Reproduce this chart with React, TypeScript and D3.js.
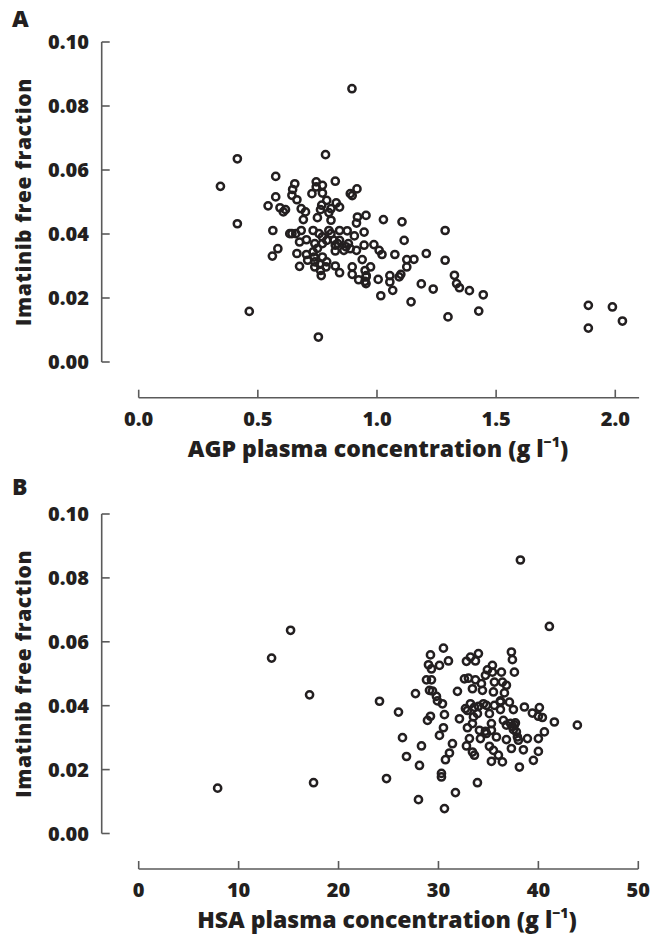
import React from "react";
import * as d3 from "d3";

// Panel A: AGP (g/l) vs imatinib free fraction
const agpX = [0.895,0.784,0.414,0.343,0.575,0.414,0.464,0.754,1.887,1.887,1.988,2.03,1.286,1.286,1.298,1.427,1.446,1.388,1.346,1.334,1.325,1.236,1.186,1.143,1.207,1.155,1.125,1.125,1.114,1.105,1.027,1.075,1.1,1.093,1.054,1.054,1.066,1.016,1.005,1.021,1.009,0.987,0.954,0.918,0.914,0.916,0.888,0.896,0.825,0.946,0.905,0.946,0.914,0.938,0.973,0.95,0.954,0.954,0.923,0.896,0.896,0.875,0.87,0.861,0.843,0.825,0.825,0.807,0.807,0.798,0.807,0.843,0.829,0.789,0.771,0.771,0.745,0.745,0.727,0.768,0.763,0.75,0.732,0.757,0.771,0.771,0.739,0.732,0.736,0.739,0.739,0.763,0.766,0.786,0.789,0.825,0.843,0.709,0.704,0.704,0.7,0.682,0.691,0.664,0.643,0.646,0.655,0.643,0.634,0.659,0.675,0.664,0.675,0.616,0.593,0.543,0.575,0.563,0.584,0.561,0.607,0.682,0.843,0.798,0.88,0.888,0.789,0.771,0.95,0.955,0.76,0.75,0.82,0.835];
const agpY = [0.0854,0.0648,0.0635,0.0549,0.058,0.0432,0.0158,0.0078,0.0177,0.0106,0.0172,0.0128,0.0411,0.0318,0.0141,0.0159,0.021,0.0223,0.0232,0.0245,0.0271,0.0228,0.0244,0.0188,0.0339,0.0321,0.032,0.0297,0.038,0.0438,0.0445,0.0336,0.0274,0.0266,0.027,0.025,0.0224,0.0207,0.0258,0.0336,0.0349,0.0367,0.0458,0.0453,0.0434,0.0541,0.0526,0.052,0.0565,0.0406,0.0394,0.0365,0.0349,0.032,0.0297,0.0286,0.0266,0.0245,0.0257,0.0297,0.0274,0.041,0.036,0.0349,0.038,0.0365,0.0347,0.0401,0.0443,0.0467,0.0479,0.0484,0.0497,0.0505,0.0528,0.0552,0.0563,0.0547,0.0526,0.049,0.0476,0.0451,0.0411,0.0401,0.0391,0.037,0.037,0.0344,0.0328,0.0313,0.0297,0.0286,0.027,0.0297,0.0313,0.03,0.0279,0.0318,0.0336,0.0382,0.0469,0.0479,0.0445,0.0507,0.0521,0.0539,0.0557,0.0401,0.0401,0.0401,0.0375,0.0339,0.0299,0.0476,0.0482,0.0488,0.0516,0.0411,0.0354,0.0331,0.0469,0.0411,0.0411,0.0411,0.037,0.0354,0.038,0.0328,0.0252,0.027,0.0305,0.0355,0.038,0.037];

// Panel B: HSA (g/l) vs imatinib free fraction
const hsaX = [38.2,41.1,15.2,13.3,17.1,17.5,7.9,24.1,26.0,26.4,26.8,28.3,28.1,24.8,28.0,30.6,30.3,30.3,31.7,33.9,27.7,29.2,30.5,31.0,30.1,29.0,29.3,28.8,29.3,29.1,29.4,29.8,29.9,30.4,29.2,28.9,30.6,30.5,30.1,30.7,31.1,31.4,31.9,32.1,32.8,33.2,34.0,33.7,32.6,33.0,33.7,33.4,34.3,34.4,34.7,34.9,35.4,35.6,35.5,36.3,36.4,36.6,36.8,37.3,37.4,37.6,32.7,33.2,33.5,33.4,32.9,33.1,32.8,33.4,33.6,34.1,34.2,34.0,34.5,34.8,35.1,35.3,34.8,35.3,35.1,35.5,35.3,35.6,35.8,36.0,36.4,36.2,36.2,36.5,36.8,37.1,37.5,37.4,37.7,37.8,37.9,38.0,37.3,36.8,38.1,38.5,38.9,38.6,39.4,40.1,40.0,40.4,40.0,40.6,40.0,39.5,41.6,43.9,34.7,37.6,37.5,35.4,36.2,32.9,33.6,33.9,37.2];
const hsaY = [0.0856,0.0648,0.0636,0.0549,0.0434,0.0159,0.0142,0.0414,0.038,0.03,0.0241,0.0274,0.0213,0.0172,0.0106,0.0078,0.0188,0.0177,0.0128,0.0159,0.0438,0.0559,0.058,0.054,0.0526,0.0528,0.0515,0.0481,0.0481,0.0448,0.0446,0.0429,0.0415,0.0406,0.0367,0.0354,0.0372,0.0331,0.0307,0.0231,0.0252,0.0281,0.0445,0.0359,0.0539,0.0552,0.0563,0.054,0.0484,0.0486,0.0481,0.0453,0.0469,0.0448,0.0495,0.0512,0.0526,0.0474,0.0443,0.0505,0.0474,0.044,0.0464,0.0568,0.0544,0.0505,0.0391,0.0406,0.0365,0.0344,0.0331,0.0297,0.0274,0.0255,0.0245,0.0323,0.0297,0.0398,0.0406,0.0401,0.0375,0.0344,0.0313,0.0323,0.0273,0.026,0.0226,0.0401,0.0302,0.0245,0.0224,0.0411,0.0388,0.0354,0.0339,0.0411,0.0388,0.0335,0.0346,0.0318,0.0302,0.0292,0.0266,0.0294,0.0208,0.0262,0.0297,0.0396,0.0377,0.0394,0.0367,0.0363,0.0297,0.0318,0.0257,0.0229,0.0349,0.0339,0.032,0.034,0.0325,0.0505,0.0415,0.0385,0.0395,0.0375,0.0345];

const yTicks = [0, 0.02, 0.04, 0.06, 0.08, 0.1];
const agpTicks = [0, 0.5, 1.0, 1.5, 2.0];
const hsaTicks = [0, 10, 20, 30, 40, 50];

const FONT = "'Open Sans', Lato, sans-serif";
const TXT = "#231f20";
const AX = "#5a5a5a";

type PanelProps = {
  letter: string;
  top: number;
  bottom: number;
  xAxisY: number;
  xDomain: [number, number];
  xRangeEnd: number;
  xTickVals: number[];
  xFmt: (v: number) => string;
  xs: number[];
  ys: number[];
  title: string;
  titleX: number;
  letterY: number;
};

function Panel(p: PanelProps) {
  const x = d3.scaleLinear().domain(p.xDomain).range([138.7, p.xRangeEnd]);
  const y = d3.scaleLinear().domain([0, 0.1]).range([p.bottom, p.top]);
  const yAxisX = 101.7;
  const yFmt = d3.format(".2f");
  const mid = (p.top + p.bottom) / 2;
  return (
    <g>
      <text x={12} y={p.letterY} fontFamily={FONT} fontWeight={800} fontSize={23} fill={TXT}>
        {p.letter}
      </text>
      <line x1={yAxisX} x2={yAxisX} y1={y(0)} y2={y(0.1)} stroke={AX} strokeWidth={1.6} />
      {yTicks.map((t) => (
        <g key={t}>
          <line x1={yAxisX} x2={yAxisX + 8} y1={y(t)} y2={y(t)} stroke={AX} strokeWidth={1.6} />
          <text x={89} y={y(t) + 7} textAnchor="end" fontFamily={FONT} fontWeight={800} fontSize={20} fill={TXT}>
            {yFmt(t)}
          </text>
        </g>
      ))}
      <text
        transform={`translate(31,${mid}) rotate(-90)`}
        textAnchor="middle"
        fontFamily={FONT}
        fontWeight={800}
        fontSize={21}
        letterSpacing={0.6}
        fill={TXT}
      >
        Imatinib free fraction
      </text>
      <line x1={x(p.xDomain[0])} x2={x(p.xDomain[1])} y1={p.xAxisY} y2={p.xAxisY} stroke={AX} strokeWidth={1.6} />
      {p.xTickVals.map((t) => (
        <g key={t}>
          <line x1={x(t)} x2={x(t)} y1={p.xAxisY} y2={p.xAxisY - 8} stroke={AX} strokeWidth={1.6} />
          <text x={x(t)} y={p.xAxisY + 28} textAnchor="middle" fontFamily={FONT} fontWeight={800} fontSize={20} fill={TXT}>
            {p.xFmt(t)}
          </text>
        </g>
      ))}
      <text x={p.titleX} y={p.xAxisY + 59} textAnchor="middle" fontFamily={FONT} fontWeight={800} fontSize={23} fill={TXT}>
        {p.title} (g l
        <tspan fontSize={14} dy={-10}>−1</tspan>
        <tspan dy={10}>)</tspan>
      </text>
      {p.xs.map((v, i) => (
        <circle key={i} cx={x(v)} cy={y(p.ys[i])} r={3.6} fill="none" stroke={TXT} strokeWidth={2.5} />
      ))}
    </g>
  );
}

export default function App() {
  return (
    <svg width={665} height={938} style={{ display: "block", position: "absolute", left: 0, top: 0 }}>
      <rect width={665} height={938} fill="white" />
      <Panel
        letter="A"
        top={42}
        bottom={362}
        xAxisY={397.7}
        xDomain={[0, 2.1]}
        xRangeEnd={639.1}
        xTickVals={agpTicks}
        xFmt={d3.format(".1f")}
        xs={agpX}
        ys={agpY}
        title="AGP plasma concentration"
        titleX={378}
        letterY={27}
      />
      <Panel
        letter="B"
        top={514}
        bottom={833.5}
        xAxisY={869}
        xDomain={[0, 50]}
        xRangeEnd={638.3}
        xTickVals={hsaTicks}
        xFmt={d3.format("d")}
        xs={hsaX}
        ys={hsaY}
        title="HSA plasma concentration"
        titleX={387}
        letterY={495}
      />
    </svg>
  );
}
